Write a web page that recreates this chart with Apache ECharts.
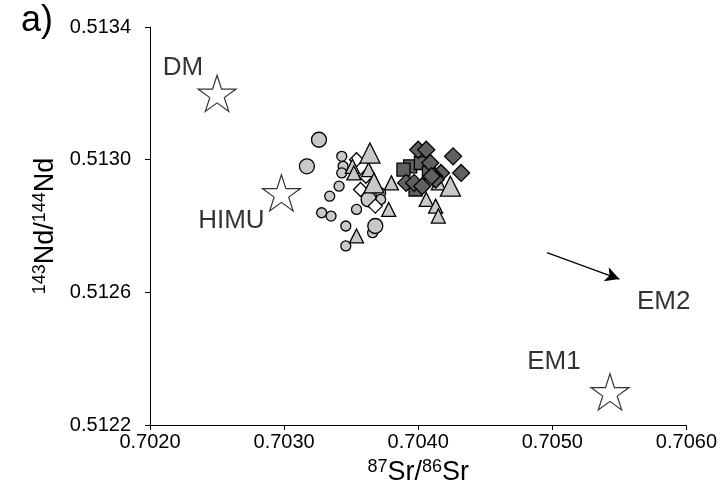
<!DOCTYPE html>
<html>
<head>
<meta charset="utf-8">
<script src="https://cdn.jsdelivr.net/npm/echarts@6/dist/echarts.min.js"></script>
<style>
  html, body { margin: 0; padding: 0; background: #fff; }
  #chart { width: 720px; height: 495px; }
</style>
</head>
<body>
<div id="chart"></div>
<script>
// Axis ticks
const xTicks = [0.7020, 0.7030, 0.7040, 0.7050, 0.7060];
const yTicks = [0.5122, 0.5126, 0.5130, 0.5134];

// Sample groups: [87Sr/86Sr, 143Nd/144Nd]
const circlesSmall = [
  [0.70343, 0.51301], [0.70344, 0.51298], [0.70343, 0.51296], [0.70341, 0.51292],
  [0.70334, 0.51289], [0.70328, 0.51284], [0.70335, 0.51283], [0.70346, 0.51280],
  [0.70346, 0.51274], [0.70354, 0.51285], [0.70372, 0.51290], [0.70372, 0.51288],
  [0.70366, 0.51278]
];
const circlesLarge = [
  [0.70326, 0.51306], [0.70317, 0.51298], [0.70363, 0.51288], [0.70368, 0.51280]
];
const trianglesSmall = [
  [0.70351, 0.51298], [0.70352, 0.51296], [0.70363, 0.51297], [0.70380, 0.51293],
  [0.70378, 0.51285], [0.70354, 0.51277], [0.70406, 0.51288], [0.70415, 0.51293],
  [0.70413, 0.51286], [0.70415, 0.51283]
];
const trianglesLarge = [
  [0.70364, 0.51302], [0.70367, 0.51293], [0.70424, 0.51292]
];
const diamondsOpen = [
  [0.70354, 0.51300], [0.70357, 0.51291], [0.70361, 0.51295], [0.70368, 0.51286]
];
const diamondsDark = [
  [0.70400, 0.51303], [0.70406, 0.51303], [0.70409, 0.51299], [0.70426, 0.51301],
  [0.70432, 0.51296], [0.70417, 0.51296], [0.70412, 0.51295], [0.70391, 0.51293],
  [0.70397, 0.51293], [0.70403, 0.51292], [0.70413, 0.51294], [0.70410, 0.51295]
];
const squaresDark = [
  [0.70394, 0.51298], [0.70389, 0.51297], [0.70402, 0.51299], [0.70398, 0.51291],
  [0.70408, 0.51296]
];

// Mantle end-members
const endMemberNames = ['DM', 'HIMU', 'EM1'];
const endMemberValues = [[0.70250, 0.51320], [0.70298, 0.51290], [0.70543, 0.51230]];
const endMemberLabelOffsets = [[-34, -26], [-50, 28], [-56, -30]];

// EM2 direction arrow and label
const em2Arrow = [[0.70496, 0.51272], [0.70550, 0.51264]];
const em2Label = [0.70583, 0.51257];

const FONT = 'Liberation Sans, Arial, sans-serif';
const STAR = 'path://M50,2 L61.2,36.5 L97.6,36.5 L68.2,57.9 L79.4,92.4 L50,71.1 L20.6,92.4 L31.8,57.9 L2.4,36.5 L38.8,36.5 Z';

const chart = echarts.init(document.getElementById('chart'));

const stroke = { borderColor: '#000', borderWidth: 1.3 };

function scatter(name, data, symbol, size, color, z) {
  return {
    name, type: 'scatter', data, symbol, symbolSize: size, z: z || 2,
    itemStyle: Object.assign({ color: color, opacity: 1 }, stroke),
    emphasis: { disabled: true }, animation: false
  };
}

const titleRich = {
  main: { fontFamily: FONT, fontSize: 27, color: '#000' },
  sup: { fontFamily: FONT, fontSize: 18, color: '#000', verticalAlign: 'bottom', padding: [0, 0, 11, 0] }
};

chart.setOption({
  animation: false,
  title: {
    text: 'a)', left: 16, top: -2,
    textStyle: { fontFamily: FONT, fontSize: 36, fontWeight: 'normal', color: '#000' }
  },
  grid: { left: 150, right: 31, top: 27, bottom: 70 },
  xAxis: {
    type: 'value', min: 0.7020, max: 0.7060,
    axisLine: { show: true, lineStyle: { color: '#000', width: 1 } },
    axisTick: { show: true, length: 5, inside: false, customValues: xTicks, lineStyle: { color: '#000' } },
    axisLabel: {
      customValues: xTicks, margin: 7, color: '#000', fontFamily: FONT, fontSize: 20,
      formatter: v => v.toFixed(4)
    },
    splitLine: { show: false },
    name: '{sup|87}{main|Sr/}{sup|86}{main|Sr}',
    nameLocation: 'middle', nameGap: 33,
    nameTextStyle: { rich: titleRich }
  },
  yAxis: {
    type: 'value', min: 0.5122, max: 0.5134,
    axisLine: { show: true, lineStyle: { color: '#000', width: 1 } },
    axisTick: { show: true, length: 5, inside: false, customValues: yTicks, lineStyle: { color: '#000' } },
    axisLabel: {
      customValues: yTicks, margin: 19, color: '#000', fontFamily: FONT, fontSize: 20,
      formatter: v => v.toFixed(4)
    },
    splitLine: { show: false },
    name: '{sup|143}{main|Nd/}{sup|144}{main|Nd}',
    nameLocation: 'middle', nameGap: 86, nameRotate: 90,
    nameTextStyle: { rich: titleRich }
  },
  series: [
    scatter('circles-small', circlesSmall, 'circle', 10, '#c8c8c8', 3),
    scatter('circles-large', circlesLarge, 'circle', 15, '#c8c8c8', 3),
    scatter('triangles-small', trianglesSmall, 'triangle', 14, '#c8c8c8', 4),
    scatter('triangles-large', trianglesLarge, 'triangle', 20, '#c8c8c8', 4),
    scatter('diamonds-open', diamondsOpen, 'diamond', 14, '#ffffff', 3),
    scatter('squares-dark', squaresDark, 'rect', 13, '#606060', 5),
    scatter('diamonds-dark', diamondsDark, 'diamond', 17, '#606060', 5),
    {
      name: 'end-members', type: 'scatter', symbol: STAR, symbolSize: 38, z: 6,
      symbolKeepAspect: true,
      itemStyle: { color: '#fff', borderColor: '#000', borderWidth: 1.2 },
      data: endMemberValues.map((v, i) => ({
        value: v,
        label: {
          show: true, formatter: endMemberNames[i], position: 'inside',
          offset: endMemberLabelOffsets[i],
          fontFamily: FONT, fontSize: 26, color: '#000'
        }
      })),
      emphasis: { disabled: true }
    },
    {
      name: 'em2', type: 'scatter', symbolSize: 0, z: 6,
      data: [{
        value: em2Label,
        label: { show: true, formatter: 'EM2', position: 'inside', fontFamily: FONT, fontSize: 26, color: '#000' }
      }],
      markLine: {
        silent: true, symbol: ['none', 'arrow'], symbolSize: [11, 14],
        lineStyle: { color: '#000', width: 1.3, type: 'solid' },
        label: { show: false },
        data: [[{ coord: em2Arrow[0] }, { coord: em2Arrow[1] }]]
      },
      emphasis: { disabled: true }
    }
  ]
});
</script>
</body>
</html>
